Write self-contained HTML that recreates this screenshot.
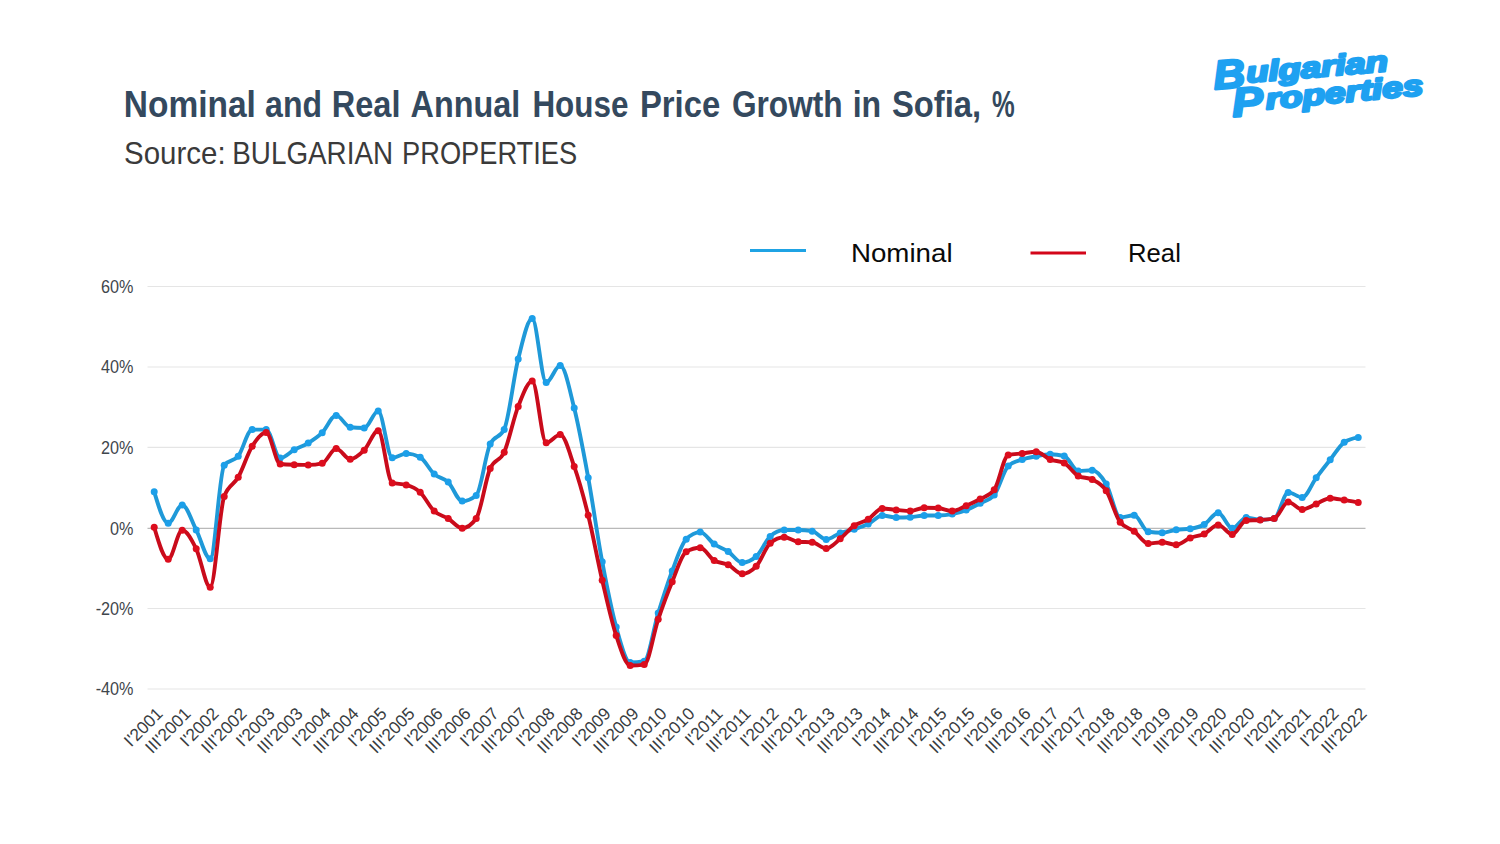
<!DOCTYPE html>
<html><head><meta charset="utf-8"><title>Nominal and Real Annual House Price Growth in Sofia</title>
<style>
html,body{margin:0;padding:0;background:#fff;}
body{width:1500px;height:844px;overflow:hidden;font-family:"Liberation Sans",sans-serif;}
svg{display:block;font-family:"Liberation Sans",sans-serif;}
.yl{font-size:18px;fill:#3f464c;}
.xl{font-size:17.3px;fill:#373c41;}
.lg{font-size:26.6px;fill:#0a0a0a;}
.tt{font-size:36.5px;font-weight:bold;fill:#34495e;}
.st{font-size:32px;fill:#3a3a3a;}
.logo text{font-size:28.8px;font-weight:bold;font-style:italic;fill:#1ea1f1;stroke:#1ea1f1;stroke-width:2.5px;stroke-linejoin:round;}
.logo text.cap{font-size:40.5px;}
</style></head><body>
<svg width="1500" height="844" viewBox="0 0 1500 844">
<rect width="1500" height="844" fill="#ffffff"/>
<line x1="147.5" x2="1365.5" y1="286.5" y2="286.5" stroke="#e5e5e5" stroke-width="1.2"/>
<text transform="translate(133.5,292.7) scale(0.9,1)" text-anchor="end" class="yl">60%</text>
<line x1="147.5" x2="1365.5" y1="367" y2="367" stroke="#e5e5e5" stroke-width="1.2"/>
<text transform="translate(133.5,373.2) scale(0.9,1)" text-anchor="end" class="yl">40%</text>
<line x1="147.5" x2="1365.5" y1="447.4" y2="447.4" stroke="#e5e5e5" stroke-width="1.2"/>
<text transform="translate(133.5,453.6) scale(0.9,1)" text-anchor="end" class="yl">20%</text>
<line x1="147.5" x2="1365.5" y1="528.3" y2="528.3" stroke="#b9b9b9" stroke-width="1.2"/>
<text transform="translate(133.5,534.5) scale(0.9,1)" text-anchor="end" class="yl">0%</text>
<line x1="147.5" x2="1365.5" y1="608.5" y2="608.5" stroke="#e5e5e5" stroke-width="1.2"/>
<text transform="translate(133.5,614.7) scale(0.9,1)" text-anchor="end" class="yl">-20%</text>
<line x1="147.5" x2="1365.5" y1="689" y2="689" stroke="#e5e5e5" stroke-width="1.2"/>
<text transform="translate(133.5,695.2) scale(0.9,1)" text-anchor="end" class="yl">-40%</text>
<text transform="translate(163.9,714.8) rotate(-45)" text-anchor="end" class="xl">I'2001</text>
<text transform="translate(191.9,714.8) rotate(-45)" text-anchor="end" class="xl">III'2001</text>
<text transform="translate(219.9,714.8) rotate(-45)" text-anchor="end" class="xl">I'2002</text>
<text transform="translate(247.9,714.8) rotate(-45)" text-anchor="end" class="xl">III'2002</text>
<text transform="translate(275.9,714.8) rotate(-45)" text-anchor="end" class="xl">I'2003</text>
<text transform="translate(303.9,714.8) rotate(-45)" text-anchor="end" class="xl">III'2003</text>
<text transform="translate(331.9,714.8) rotate(-45)" text-anchor="end" class="xl">I'2004</text>
<text transform="translate(359.9,714.8) rotate(-45)" text-anchor="end" class="xl">III'2004</text>
<text transform="translate(387.9,714.8) rotate(-45)" text-anchor="end" class="xl">I'2005</text>
<text transform="translate(415.9,714.8) rotate(-45)" text-anchor="end" class="xl">III'2005</text>
<text transform="translate(443.9,714.8) rotate(-45)" text-anchor="end" class="xl">I'2006</text>
<text transform="translate(471.9,714.8) rotate(-45)" text-anchor="end" class="xl">III'2006</text>
<text transform="translate(499.9,714.8) rotate(-45)" text-anchor="end" class="xl">I'2007</text>
<text transform="translate(527.9,714.8) rotate(-45)" text-anchor="end" class="xl">III'2007</text>
<text transform="translate(555.9,714.8) rotate(-45)" text-anchor="end" class="xl">I'2008</text>
<text transform="translate(583.9,714.8) rotate(-45)" text-anchor="end" class="xl">III'2008</text>
<text transform="translate(611.9,714.8) rotate(-45)" text-anchor="end" class="xl">I'2009</text>
<text transform="translate(639.9,714.8) rotate(-45)" text-anchor="end" class="xl">III'2009</text>
<text transform="translate(667.9,714.8) rotate(-45)" text-anchor="end" class="xl">I'2010</text>
<text transform="translate(695.9,714.8) rotate(-45)" text-anchor="end" class="xl">III'2010</text>
<text transform="translate(723.9,714.8) rotate(-45)" text-anchor="end" class="xl">I'2011</text>
<text transform="translate(751.9,714.8) rotate(-45)" text-anchor="end" class="xl">III'2011</text>
<text transform="translate(779.9,714.8) rotate(-45)" text-anchor="end" class="xl">I'2012</text>
<text transform="translate(807.9,714.8) rotate(-45)" text-anchor="end" class="xl">III'2012</text>
<text transform="translate(835.9,714.8) rotate(-45)" text-anchor="end" class="xl">I'2013</text>
<text transform="translate(863.9,714.8) rotate(-45)" text-anchor="end" class="xl">III'2013</text>
<text transform="translate(891.9,714.8) rotate(-45)" text-anchor="end" class="xl">I'2014</text>
<text transform="translate(919.9,714.8) rotate(-45)" text-anchor="end" class="xl">III'2014</text>
<text transform="translate(947.9,714.8) rotate(-45)" text-anchor="end" class="xl">I'2015</text>
<text transform="translate(975.9,714.8) rotate(-45)" text-anchor="end" class="xl">III'2015</text>
<text transform="translate(1003.9,714.8) rotate(-45)" text-anchor="end" class="xl">I'2016</text>
<text transform="translate(1031.9,714.8) rotate(-45)" text-anchor="end" class="xl">III'2016</text>
<text transform="translate(1059.9,714.8) rotate(-45)" text-anchor="end" class="xl">I'2017</text>
<text transform="translate(1087.9,714.8) rotate(-45)" text-anchor="end" class="xl">III'2017</text>
<text transform="translate(1115.9,714.8) rotate(-45)" text-anchor="end" class="xl">I'2018</text>
<text transform="translate(1143.9,714.8) rotate(-45)" text-anchor="end" class="xl">III'2018</text>
<text transform="translate(1171.9,714.8) rotate(-45)" text-anchor="end" class="xl">I'2019</text>
<text transform="translate(1199.9,714.8) rotate(-45)" text-anchor="end" class="xl">III'2019</text>
<text transform="translate(1227.9,714.8) rotate(-45)" text-anchor="end" class="xl">I'2020</text>
<text transform="translate(1255.9,714.8) rotate(-45)" text-anchor="end" class="xl">III'2020</text>
<text transform="translate(1283.9,714.8) rotate(-45)" text-anchor="end" class="xl">I'2021</text>
<text transform="translate(1311.9,714.8) rotate(-45)" text-anchor="end" class="xl">III'2021</text>
<text transform="translate(1339.9,714.8) rotate(-45)" text-anchor="end" class="xl">I'2022</text>
<text transform="translate(1367.9,714.8) rotate(-45)" text-anchor="end" class="xl">III'2022</text>
<path d="M154.2,491.7C158.9,507.5 163.5,523.2 168.2,523.2C172.9,523.2 177.5,505.0 182.2,505.0C186.9,505.0 191.5,520.9 196.2,529.9C200.9,538.9 205.5,558.8 210.2,558.8C214.9,558.8 219.5,471.2 224.2,465.2C228.9,459.2 233.5,462.1 238.2,456.2C242.9,450.3 247.5,429.6 252.2,429.6C256.9,429.6 261.5,429.6 266.2,429.6C270.9,429.6 275.5,458.1 280.2,458.1C284.9,458.1 289.5,452.3 294.2,449.8C298.9,447.3 303.5,446.0 308.2,443.1C312.9,440.2 317.5,437.3 322.2,432.7C326.9,428.1 331.5,415.4 336.2,415.4C340.9,415.4 345.5,426.8 350.2,427.3C354.9,427.8 359.5,428.0 364.2,428.0C368.9,428.0 373.5,411.1 378.2,411.1C382.9,411.1 387.5,457.8 392.2,457.8C396.9,457.8 401.5,453.6 406.2,453.6C410.9,453.6 415.5,454.8 420.2,457.3C424.9,459.8 429.5,470.0 434.2,474.1C438.9,478.2 443.5,477.6 448.2,482.1C452.9,486.6 457.5,501.1 462.2,501.1C466.9,501.1 471.5,499.2 476.2,495.4C480.9,491.6 485.5,453.7 490.2,444.0C494.9,434.3 499.5,439.1 504.2,429.4C508.9,419.7 513.5,377.4 518.2,358.9C522.9,340.4 527.5,318.5 532.2,318.5C536.9,318.5 541.5,382.5 546.2,382.5C550.9,382.5 555.5,365.4 560.2,365.4C564.9,365.4 569.5,389.4 574.2,408.1C578.9,426.8 583.5,452.1 588.2,477.7C592.9,503.3 597.5,536.8 602.2,561.7C606.9,586.6 611.5,610.2 616.2,627.0C620.9,643.8 625.5,662.4 630.2,662.4C634.9,662.4 639.5,662.0 644.2,661.2C648.9,660.4 653.5,628.2 658.2,613.1C662.9,598.0 667.5,583.2 672.2,570.9C676.9,558.6 681.5,543.9 686.2,539.2C690.9,534.5 695.5,532.1 700.2,532.1C704.9,532.1 709.5,540.9 714.2,544.1C718.9,547.3 723.5,548.4 728.2,551.5C732.9,554.6 737.5,562.6 742.2,562.6C746.9,562.6 751.5,560.6 756.2,556.5C760.9,552.4 765.5,540.7 770.2,536.4C774.9,532.1 779.5,530.0 784.2,530.0C788.9,530.0 793.5,530.0 798.2,530.0C802.9,530.0 807.5,530.4 812.2,531.2C816.9,532.0 821.5,539.4 826.2,539.4C830.9,539.4 835.5,534.7 840.2,533.0C844.9,531.3 849.5,530.7 854.2,529.2C858.9,527.7 863.5,526.4 868.2,524.1C872.9,521.8 877.5,515.5 882.2,515.5C886.9,515.5 891.5,517.5 896.2,517.5C900.9,517.5 905.5,517.4 910.2,517.2C914.9,517.0 919.5,515.5 924.2,515.5C928.9,515.5 933.5,515.5 938.2,515.5C942.9,515.5 947.5,515.0 952.2,514.1C956.9,513.2 961.5,511.9 966.2,510.1C970.9,508.3 975.5,505.8 980.2,503.3C984.9,500.8 989.5,500.5 994.2,495.0C998.9,489.5 1003.5,470.5 1008.2,466.1C1012.9,461.7 1017.5,461.1 1022.2,459.5C1026.9,457.9 1031.5,457.2 1036.2,456.3C1040.9,455.4 1045.5,454.3 1050.2,454.3C1054.9,454.3 1059.5,454.9 1064.2,456.0C1068.9,457.1 1073.5,470.9 1078.2,470.9C1082.9,470.9 1087.5,470.3 1092.2,470.3C1096.9,470.3 1101.5,476.2 1106.2,484.1C1110.9,492.0 1115.5,517.4 1120.2,517.4C1124.9,517.4 1129.5,515.3 1134.2,515.3C1138.9,515.3 1143.5,531.2 1148.2,531.8C1152.9,532.4 1157.5,532.7 1162.2,532.7C1166.9,532.7 1171.5,530.4 1176.2,529.7C1180.9,529.0 1185.5,529.4 1190.2,528.7C1194.9,528.0 1199.5,527.2 1204.2,524.5C1208.9,521.8 1213.5,512.7 1218.2,512.7C1222.9,512.7 1227.5,528.3 1232.2,528.3C1236.9,528.3 1241.5,517.6 1246.2,517.6C1250.9,517.6 1255.5,519.7 1260.2,519.7C1264.9,519.7 1269.5,519.3 1274.2,518.5C1278.9,517.7 1283.5,492.4 1288.2,492.4C1292.9,492.4 1297.5,497.4 1302.2,497.4C1306.9,497.4 1311.5,484.1 1316.2,477.8C1320.9,471.5 1325.5,465.6 1330.2,459.7C1334.9,453.8 1339.5,445.6 1344.2,442.3C1348.9,439.0 1353.5,438.2 1358.2,437.4" fill="none" stroke="#1f99d8" stroke-width="3.9" stroke-linejoin="round" stroke-linecap="round"/>
<g fill="#1c9fe9"><circle cx="154.2" cy="491.7" r="3.5"/><circle cx="168.2" cy="523.2" r="3.5"/><circle cx="182.2" cy="505.0" r="3.5"/><circle cx="196.2" cy="529.9" r="3.5"/><circle cx="210.2" cy="558.8" r="3.5"/><circle cx="224.2" cy="465.2" r="3.5"/><circle cx="238.2" cy="456.2" r="3.5"/><circle cx="252.2" cy="429.6" r="3.5"/><circle cx="266.2" cy="429.6" r="3.5"/><circle cx="280.2" cy="458.1" r="3.5"/><circle cx="294.2" cy="449.8" r="3.5"/><circle cx="308.2" cy="443.1" r="3.5"/><circle cx="322.2" cy="432.7" r="3.5"/><circle cx="336.2" cy="415.4" r="3.5"/><circle cx="350.2" cy="427.3" r="3.5"/><circle cx="364.2" cy="428.0" r="3.5"/><circle cx="378.2" cy="411.1" r="3.5"/><circle cx="392.2" cy="457.8" r="3.5"/><circle cx="406.2" cy="453.6" r="3.5"/><circle cx="420.2" cy="457.3" r="3.5"/><circle cx="434.2" cy="474.1" r="3.5"/><circle cx="448.2" cy="482.1" r="3.5"/><circle cx="462.2" cy="501.1" r="3.5"/><circle cx="476.2" cy="495.4" r="3.5"/><circle cx="490.2" cy="444.0" r="3.5"/><circle cx="504.2" cy="429.4" r="3.5"/><circle cx="518.2" cy="358.9" r="3.5"/><circle cx="532.2" cy="318.5" r="3.5"/><circle cx="546.2" cy="382.5" r="3.5"/><circle cx="560.2" cy="365.4" r="3.5"/><circle cx="574.2" cy="408.1" r="3.5"/><circle cx="588.2" cy="477.7" r="3.5"/><circle cx="602.2" cy="561.7" r="3.5"/><circle cx="616.2" cy="627.0" r="3.5"/><circle cx="630.2" cy="662.4" r="3.5"/><circle cx="644.2" cy="661.2" r="3.5"/><circle cx="658.2" cy="613.1" r="3.5"/><circle cx="672.2" cy="570.9" r="3.5"/><circle cx="686.2" cy="539.2" r="3.5"/><circle cx="700.2" cy="532.1" r="3.5"/><circle cx="714.2" cy="544.1" r="3.5"/><circle cx="728.2" cy="551.5" r="3.5"/><circle cx="742.2" cy="562.6" r="3.5"/><circle cx="756.2" cy="556.5" r="3.5"/><circle cx="770.2" cy="536.4" r="3.5"/><circle cx="784.2" cy="530.0" r="3.5"/><circle cx="798.2" cy="530.0" r="3.5"/><circle cx="812.2" cy="531.2" r="3.5"/><circle cx="826.2" cy="539.4" r="3.5"/><circle cx="840.2" cy="533.0" r="3.5"/><circle cx="854.2" cy="529.2" r="3.5"/><circle cx="868.2" cy="524.1" r="3.5"/><circle cx="882.2" cy="515.5" r="3.5"/><circle cx="896.2" cy="517.5" r="3.5"/><circle cx="910.2" cy="517.2" r="3.5"/><circle cx="924.2" cy="515.5" r="3.5"/><circle cx="938.2" cy="515.5" r="3.5"/><circle cx="952.2" cy="514.1" r="3.5"/><circle cx="966.2" cy="510.1" r="3.5"/><circle cx="980.2" cy="503.3" r="3.5"/><circle cx="994.2" cy="495.0" r="3.5"/><circle cx="1008.2" cy="466.1" r="3.5"/><circle cx="1022.2" cy="459.5" r="3.5"/><circle cx="1036.2" cy="456.3" r="3.5"/><circle cx="1050.2" cy="454.3" r="3.5"/><circle cx="1064.2" cy="456.0" r="3.5"/><circle cx="1078.2" cy="470.9" r="3.5"/><circle cx="1092.2" cy="470.3" r="3.5"/><circle cx="1106.2" cy="484.1" r="3.5"/><circle cx="1120.2" cy="517.4" r="3.5"/><circle cx="1134.2" cy="515.3" r="3.5"/><circle cx="1148.2" cy="531.8" r="3.5"/><circle cx="1162.2" cy="532.7" r="3.5"/><circle cx="1176.2" cy="529.7" r="3.5"/><circle cx="1190.2" cy="528.7" r="3.5"/><circle cx="1204.2" cy="524.5" r="3.5"/><circle cx="1218.2" cy="512.7" r="3.5"/><circle cx="1232.2" cy="528.3" r="3.5"/><circle cx="1246.2" cy="517.6" r="3.5"/><circle cx="1260.2" cy="519.7" r="3.5"/><circle cx="1274.2" cy="518.5" r="3.5"/><circle cx="1288.2" cy="492.4" r="3.5"/><circle cx="1302.2" cy="497.4" r="3.5"/><circle cx="1316.2" cy="477.8" r="3.5"/><circle cx="1330.2" cy="459.7" r="3.5"/><circle cx="1344.2" cy="442.3" r="3.5"/><circle cx="1358.2" cy="437.4" r="3.5"/></g>
<path d="M154.2,527.3C158.9,543.2 163.5,559.2 168.2,559.2C172.9,559.2 177.5,530.3 182.2,530.3C186.9,530.3 191.5,539.3 196.2,548.8C200.9,558.3 205.5,587.2 210.2,587.2C214.9,587.2 219.5,509.1 224.2,496.4C228.9,483.7 233.5,485.7 238.2,477.3C242.9,468.9 247.5,453.7 252.2,446.2C256.9,438.7 261.5,432.5 266.2,432.5C270.9,432.5 275.5,463.5 280.2,464.0C284.9,464.5 289.5,464.6 294.2,464.7C298.9,464.8 303.5,464.9 308.2,464.9C312.9,464.9 317.5,464.4 322.2,463.3C326.9,462.2 331.5,448.6 336.2,448.6C340.9,448.6 345.5,459.2 350.2,459.2C354.9,459.2 359.5,454.9 364.2,450.2C368.9,445.5 373.5,430.8 378.2,430.8C382.9,430.8 387.5,481.6 392.2,482.9C396.9,484.2 401.5,483.6 406.2,484.9C410.9,486.2 415.5,487.9 420.2,492.3C424.9,496.7 429.5,506.7 434.2,511.1C438.9,515.5 443.5,515.6 448.2,518.5C452.9,521.4 457.5,528.2 462.2,528.2C466.9,528.2 471.5,525.0 476.2,518.5C480.9,512.0 485.5,479.2 490.2,468.4C494.9,457.6 499.5,462.5 504.2,452.2C508.9,441.9 513.5,418.2 518.2,406.4C522.9,394.6 527.5,381.1 532.2,381.1C536.9,381.1 541.5,442.8 546.2,442.8C550.9,442.8 555.5,434.6 560.2,434.6C564.9,434.6 569.5,453.0 574.2,466.4C578.9,479.8 583.5,496.2 588.2,515.2C592.9,534.2 597.5,560.1 602.2,580.2C606.9,600.3 611.5,621.4 616.2,635.6C620.9,649.8 625.5,665.5 630.2,665.5C634.9,665.5 639.5,665.2 644.2,664.6C648.9,664.0 653.5,633.1 658.2,619.3C662.9,605.5 667.5,593.0 672.2,581.7C676.9,570.5 681.5,554.5 686.2,551.8C690.9,549.1 695.5,547.8 700.2,547.8C704.9,547.8 709.5,557.7 714.2,560.5C718.9,563.3 723.5,562.6 728.2,564.8C732.9,567.0 737.5,573.7 742.2,573.7C746.9,573.7 751.5,571.2 756.2,566.3C760.9,561.4 765.5,547.1 770.2,543.2C774.9,539.3 779.5,537.3 784.2,537.3C788.9,537.3 793.5,541.3 798.2,541.7C802.9,542.1 807.5,541.9 812.2,542.3C816.9,542.7 821.5,548.4 826.2,548.4C830.9,548.4 835.5,542.6 840.2,538.8C844.9,535.0 849.5,529.0 854.2,525.7C858.9,522.5 863.5,522.2 868.2,519.3C872.9,516.4 877.5,508.5 882.2,508.5C886.9,508.5 891.5,509.5 896.2,509.9C900.9,510.3 905.5,511.1 910.2,511.1C914.9,511.1 919.5,507.7 924.2,507.7C928.9,507.7 933.5,507.8 938.2,508.0C942.9,508.2 947.5,511.1 952.2,511.1C956.9,511.1 961.5,507.7 966.2,505.7C970.9,503.7 975.5,501.6 980.2,499.0C984.9,496.4 989.5,495.9 994.2,489.8C998.9,483.7 1003.5,456.2 1008.2,455.1C1012.9,454.0 1017.5,454.0 1022.2,453.4C1026.9,452.8 1031.5,451.7 1036.2,451.7C1040.9,451.7 1045.5,457.6 1050.2,459.5C1054.9,461.4 1059.5,460.6 1064.2,462.9C1068.9,465.2 1073.5,473.5 1078.2,475.9C1082.9,478.3 1087.5,477.1 1092.2,479.5C1096.9,481.9 1101.5,483.6 1106.2,490.7C1110.9,497.8 1115.5,516.3 1120.2,522.3C1124.9,528.3 1129.5,527.8 1134.2,531.3C1138.9,534.8 1143.5,543.6 1148.2,543.6C1152.9,543.6 1157.5,542.2 1162.2,542.2C1166.9,542.2 1171.5,544.8 1176.2,544.8C1180.9,544.8 1185.5,539.7 1190.2,537.9C1194.9,536.1 1199.5,536.1 1204.2,533.9C1208.9,531.7 1213.5,524.9 1218.2,524.9C1222.9,524.9 1227.5,534.4 1232.2,534.4C1236.9,534.4 1241.5,520.8 1246.2,520.5C1250.9,520.2 1255.5,520.3 1260.2,520.0C1264.9,519.7 1269.5,519.5 1274.2,518.5C1278.9,517.5 1283.5,502.1 1288.2,502.1C1292.9,502.1 1297.5,509.5 1302.2,509.5C1306.9,509.5 1311.5,505.8 1316.2,503.9C1320.9,502.0 1325.5,498.2 1330.2,498.2C1334.9,498.2 1339.5,499.4 1344.2,500.1C1348.9,500.8 1353.5,501.6 1358.2,502.4" fill="none" stroke="#c90b1b" stroke-width="3.9" stroke-linejoin="round" stroke-linecap="round"/>
<g fill="#dc0d1d"><circle cx="154.2" cy="527.3" r="3.5"/><circle cx="168.2" cy="559.2" r="3.5"/><circle cx="182.2" cy="530.3" r="3.5"/><circle cx="196.2" cy="548.8" r="3.5"/><circle cx="210.2" cy="587.2" r="3.5"/><circle cx="224.2" cy="496.4" r="3.5"/><circle cx="238.2" cy="477.3" r="3.5"/><circle cx="252.2" cy="446.2" r="3.5"/><circle cx="266.2" cy="432.5" r="3.5"/><circle cx="280.2" cy="464.0" r="3.5"/><circle cx="294.2" cy="464.7" r="3.5"/><circle cx="308.2" cy="464.9" r="3.5"/><circle cx="322.2" cy="463.3" r="3.5"/><circle cx="336.2" cy="448.6" r="3.5"/><circle cx="350.2" cy="459.2" r="3.5"/><circle cx="364.2" cy="450.2" r="3.5"/><circle cx="378.2" cy="430.8" r="3.5"/><circle cx="392.2" cy="482.9" r="3.5"/><circle cx="406.2" cy="484.9" r="3.5"/><circle cx="420.2" cy="492.3" r="3.5"/><circle cx="434.2" cy="511.1" r="3.5"/><circle cx="448.2" cy="518.5" r="3.5"/><circle cx="462.2" cy="528.2" r="3.5"/><circle cx="476.2" cy="518.5" r="3.5"/><circle cx="490.2" cy="468.4" r="3.5"/><circle cx="504.2" cy="452.2" r="3.5"/><circle cx="518.2" cy="406.4" r="3.5"/><circle cx="532.2" cy="381.1" r="3.5"/><circle cx="546.2" cy="442.8" r="3.5"/><circle cx="560.2" cy="434.6" r="3.5"/><circle cx="574.2" cy="466.4" r="3.5"/><circle cx="588.2" cy="515.2" r="3.5"/><circle cx="602.2" cy="580.2" r="3.5"/><circle cx="616.2" cy="635.6" r="3.5"/><circle cx="630.2" cy="665.5" r="3.5"/><circle cx="644.2" cy="664.6" r="3.5"/><circle cx="658.2" cy="619.3" r="3.5"/><circle cx="672.2" cy="581.7" r="3.5"/><circle cx="686.2" cy="551.8" r="3.5"/><circle cx="700.2" cy="547.8" r="3.5"/><circle cx="714.2" cy="560.5" r="3.5"/><circle cx="728.2" cy="564.8" r="3.5"/><circle cx="742.2" cy="573.7" r="3.5"/><circle cx="756.2" cy="566.3" r="3.5"/><circle cx="770.2" cy="543.2" r="3.5"/><circle cx="784.2" cy="537.3" r="3.5"/><circle cx="798.2" cy="541.7" r="3.5"/><circle cx="812.2" cy="542.3" r="3.5"/><circle cx="826.2" cy="548.4" r="3.5"/><circle cx="840.2" cy="538.8" r="3.5"/><circle cx="854.2" cy="525.7" r="3.5"/><circle cx="868.2" cy="519.3" r="3.5"/><circle cx="882.2" cy="508.5" r="3.5"/><circle cx="896.2" cy="509.9" r="3.5"/><circle cx="910.2" cy="511.1" r="3.5"/><circle cx="924.2" cy="507.7" r="3.5"/><circle cx="938.2" cy="508.0" r="3.5"/><circle cx="952.2" cy="511.1" r="3.5"/><circle cx="966.2" cy="505.7" r="3.5"/><circle cx="980.2" cy="499.0" r="3.5"/><circle cx="994.2" cy="489.8" r="3.5"/><circle cx="1008.2" cy="455.1" r="3.5"/><circle cx="1022.2" cy="453.4" r="3.5"/><circle cx="1036.2" cy="451.7" r="3.5"/><circle cx="1050.2" cy="459.5" r="3.5"/><circle cx="1064.2" cy="462.9" r="3.5"/><circle cx="1078.2" cy="475.9" r="3.5"/><circle cx="1092.2" cy="479.5" r="3.5"/><circle cx="1106.2" cy="490.7" r="3.5"/><circle cx="1120.2" cy="522.3" r="3.5"/><circle cx="1134.2" cy="531.3" r="3.5"/><circle cx="1148.2" cy="543.6" r="3.5"/><circle cx="1162.2" cy="542.2" r="3.5"/><circle cx="1176.2" cy="544.8" r="3.5"/><circle cx="1190.2" cy="537.9" r="3.5"/><circle cx="1204.2" cy="533.9" r="3.5"/><circle cx="1218.2" cy="524.9" r="3.5"/><circle cx="1232.2" cy="534.4" r="3.5"/><circle cx="1246.2" cy="520.5" r="3.5"/><circle cx="1260.2" cy="520.0" r="3.5"/><circle cx="1274.2" cy="518.5" r="3.5"/><circle cx="1288.2" cy="502.1" r="3.5"/><circle cx="1302.2" cy="509.5" r="3.5"/><circle cx="1316.2" cy="503.9" r="3.5"/><circle cx="1330.2" cy="498.2" r="3.5"/><circle cx="1344.2" cy="500.1" r="3.5"/><circle cx="1358.2" cy="502.4" r="3.5"/></g>
<line x1="750" x2="806" y1="250.5" y2="250.5" stroke="#1fa3e4" stroke-width="3"/>
<line x1="1030.5" x2="1086" y1="253" y2="253" stroke="#d3061a" stroke-width="3"/>
<text transform="translate(123.76,117) scale(0.9182,1)" class="tt">Nominal</text>
<text transform="translate(265.12,117) scale(0.8767,1)" class="tt">and</text>
<text transform="translate(331.82,117) scale(0.8909,1)" class="tt">Real</text>
<text transform="translate(410.60,117) scale(0.8861,1)" class="tt">Annual</text>
<text transform="translate(532.38,117) scale(0.8613,1)" class="tt">House</text>
<text transform="translate(639.90,117) scale(0.9001,1)" class="tt">Price</text>
<text transform="translate(731.93,117) scale(0.8674,1)" class="tt">Growth</text>
<text transform="translate(852.64,117) scale(0.8785,1)" class="tt">in</text>
<text transform="translate(891.90,117) scale(0.8978,1)" class="tt">Sofia,</text>
<text transform="translate(992.00,117) scale(0.7000,1)" class="tt">%</text>
<text transform="translate(124.08,163.9) scale(0.9211,1)" class="st">Source:</text>
<text transform="translate(232.26,163.9) scale(0.8699,1)" class="st">BULGARIAN</text>
<text transform="translate(402.10,163.9) scale(0.8510,1)" class="st">PROPERTIES</text>
<text transform="translate(850.92,261.6) scale(1.0419,1)" class="lg">Nominal</text>
<text transform="translate(1128.07,261.6) scale(0.9655,1)" class="lg">Real</text>
<g transform="translate(1214.6,85.0) rotate(-4.3)" class="logo"><text class="cap" x="-0.5" y="4.2" textLength="31.5" lengthAdjust="spacingAndGlyphs">B</text><text transform="translate(32.5,0) rotate(-0.35)" textLength="142" lengthAdjust="spacingAndGlyphs">ulgarian</text></g>
<g transform="translate(1232.7,112.6) rotate(-4.3)" class="logo"><text class="cap" x="0" y="4.2" textLength="31" lengthAdjust="spacingAndGlyphs">P</text><text transform="translate(34,-0.8) rotate(-0.95)" textLength="158" lengthAdjust="spacingAndGlyphs">roperties</text></g>
</svg>
</body></html>
